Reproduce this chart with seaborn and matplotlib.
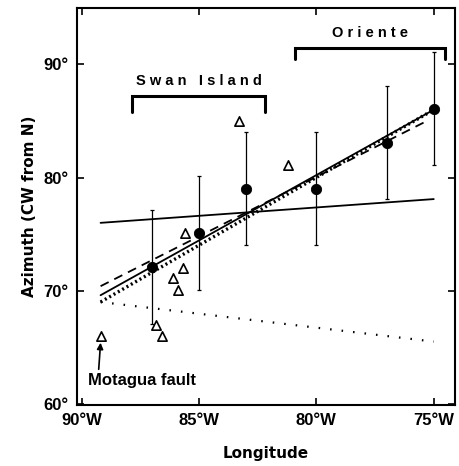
import matplotlib
matplotlib.use("Agg")
import matplotlib.pyplot as plt
import seaborn as sns
import pandas as pd
import numpy as np

# ---- data ----
circle_lon = [-87, -85, -83, -80, -77, -75]
circle_az = [72.1, 75.1, 79.0, 79.0, 83.1, 86.1]
circle_err = [5.0, 5.0, 5.0, 5.0, 5.0, 5.0]

tri_lon = [-89.2, -86.85, -86.6, -86.1, -85.9, -85.7, -85.6, -83.3, -81.2]
tri_az = [66.0, 67.0, 66.0, 71.1, 70.1, 72.0, 75.1, 85.0, 81.1]

flat_lon = [-89.2, -75.0]
flat_az = [76.0, 78.1]
solid_lon = [-89.2, -75.0]
solid_az = [69.6, 86.0]
dashed_lon = [-89.2, -75.3]
dashed_az = [70.4, 85.0]
dotted_lon = [-89.2, -75.0]
dotted_az = [69.0, 86.0]
lowdot_lon = [-89.2, -75.0]
lowdot_az = [69.0, 65.5]

xticks = [-90, -85, -80, -75]
xtick_labels = ["90°W", "85°W", "80°W", "75°W"]
yticks = [60, 70, 80, 90]
ytick_labels = ["60°", "70°", "80°", "90°"]

swan_lon = [-87.85, -82.2]
oriente_lon = [-80.9, -74.5]

sns.set_theme(style="ticks")
plt.rcParams["font.family"] = ["Liberation Sans", "DejaVu Sans"]
plt.rcParams.update({"text.color": "black", "axes.labelcolor": "black",
                     "xtick.color": "black", "ytick.color": "black"})

fig = plt.figure(figsize=(4.59, 4.66), dpi=100)
ax = fig.add_axes([0.168, 0.131, 0.823, 0.852])

circles = pd.DataFrame({"lon": circle_lon, "az": circle_az, "err": circle_err})
tris = pd.DataFrame({"lon": tri_lon, "az": tri_az})

ax.errorbar(circles["lon"], circles["az"], yerr=circles["err"], fmt="none",
            ecolor="black", elinewidth=0.9, capsize=1.5, capthick=0.9, zorder=2)

def line(lx, ly, **kw):
    sns.lineplot(x=lx, y=ly, ax=ax, color="black", estimator=None, sort=False, **kw)

line(flat_lon, flat_az, linewidth=1.3)
line(solid_lon, solid_az, linewidth=1.3)
line(dashed_lon, dashed_az, linewidth=1.3, linestyle=(0, (5, 3.5)))
line(dotted_lon, dotted_az, linewidth=2.4, linestyle=(0, (0.6, 0.9)))
line(lowdot_lon, lowdot_az, linewidth=1.6, linestyle=(0, (0.7, 4.5)))

sns.scatterplot(data=circles, x="lon", y="az", ax=ax, color="black", s=55,
                marker="o", edgecolor="black", zorder=4, legend=False)
sns.scatterplot(data=tris, x="lon", y="az", ax=ax, marker="^", s=45,
                facecolor="white", edgecolor="black", linewidth=1.2, zorder=4, legend=False)

ax.set_xlim(-90.2, -74.1)
ax.set_ylim(59.9, 95.0)
ax.set_xticks(xticks)
ax.set_xticklabels(xtick_labels)
ax.set_yticks(yticks)
ax.set_yticklabels(ytick_labels)
ax.tick_params(direction="in", length=5, width=1.2, top=True, right=True,
               labelsize=12, pad=6, colors="black")
for lab in ax.get_xticklabels() + ax.get_yticklabels():
    lab.set_fontweight("bold")
for s in ax.spines.values():
    s.set_linewidth(1.5)
    s.set_color("black")

ax.set_xlabel("Longitude", fontsize=11, fontweight="bold", family="DejaVu Sans")
ax.set_ylabel("Azimuth (CW from N)", fontsize=11, fontweight="bold", family="DejaVu Sans")
ax.xaxis.set_label_coords(0.5, -0.103)
ax.yaxis.set_label_coords(-0.106, 0.5)

# brackets
def bracket(x0, x1, ytop, ybot, label, ytext):
    ax.plot([x0, x0, x1, x1], [ybot, ytop, ytop, ybot], color="black", lw=2.2,
            solid_joinstyle="miter")
    ax.text((x0 + x1) / 2, ytext, label, ha="center", va="bottom", fontsize=10.5,
            fontweight="bold")

bracket(swan_lon[0], swan_lon[1], 87.2, 85.8, "S w a n   I s l a n d", 87.9)
bracket(oriente_lon[0], oriente_lon[1], 91.5, 90.5, "O r i e n t e", 92.2)

ax.annotate("Motagua fault", xy=(-89.2, 65.4), xytext=(-89.75, 62.1),
            fontsize=12, fontweight="bold", ha="left", va="center",
            arrowprops=dict(arrowstyle="-|>", color="black", lw=1.2,
                            shrinkA=0, shrinkB=0, mutation_scale=9,
                            relpos=(0.1, 1.0)))

fig.savefig("out.png", dpi=100)
